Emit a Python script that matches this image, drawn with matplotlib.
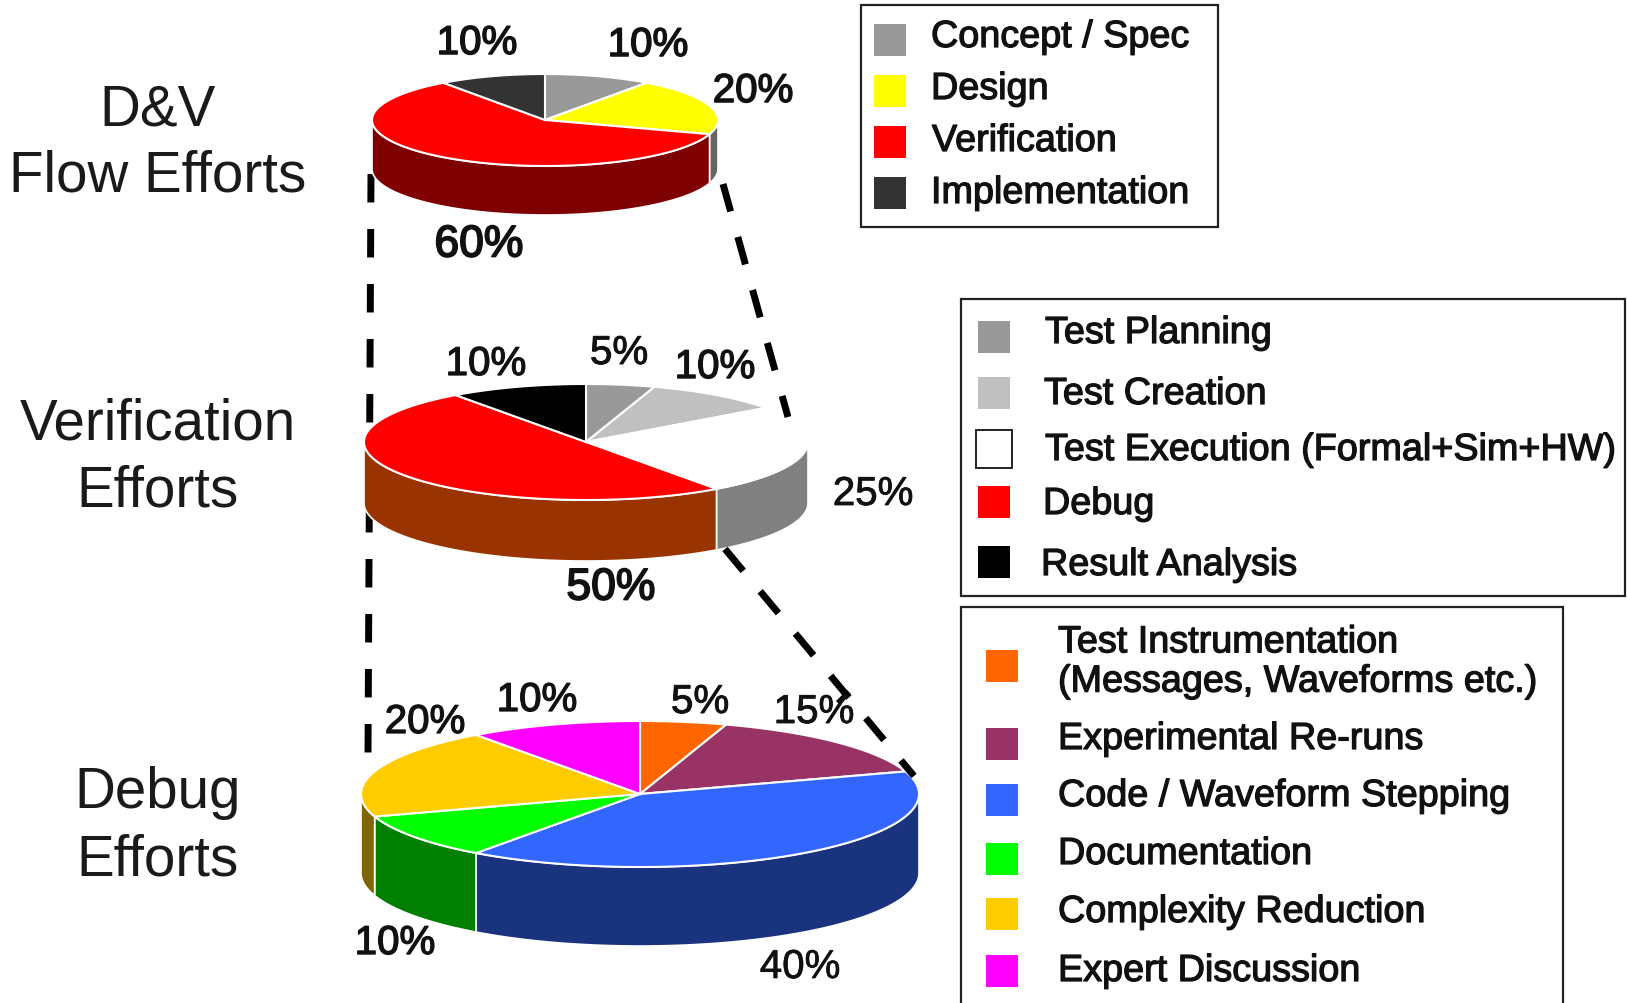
# -*- coding: utf-8 -*-
"""Three stacked pseudo-3D pies drilling down from D&V flow to debug efforts."""

import matplotlib

matplotlib.use("Agg")

import matplotlib.patheffects as pe
import matplotlib.pyplot as plt
import numpy as np
from matplotlib.patches import Polygon, Rectangle

plt.rcParams["font.family"] = ["Liberation Sans", "DejaVu Sans"]

flow_names = ["Concept / Spec", "Design", "Verification", "Implementation"]
flow_shares = [10, 20, 60, 10]
flow_tops = ["#999999", "#ffff00", "#ff0000", "#333333"]
flow_sides = ["#4d4d4d", "#666666", "#7f0000", "#1a1a1a"]

verif_names = [
    "Test Planning",
    "Test Creation",
    "Test Execution (Formal+Sim+HW)",
    "Debug",
    "Result Analysis",
]
verif_shares = [5, 10, 25, 50, 10]
verif_tops = ["#999999", "#c0c0c0", "#ffffff", "#ff0000", "#000000"]
verif_sides = ["#4d4d4d", "#606060", "#808080", "#993300", "#000000"]

debug_names = [
    "Test Instrumentation\n(Messages, Waveforms etc.)",
    "Experimental Re-runs",
    "Code / Waveform Stepping",
    "Documentation",
    "Complexity Reduction",
    "Expert Discussion",
]
debug_shares = [5, 15, 40, 10, 20, 10]
debug_tops = ["#ff6600", "#993366", "#3366ff", "#00ff00", "#ffcc00", "#ff00ff"]
debug_sides = ["#7f3300", "#4d1a33", "#1a337f", "#007f00", "#7f6600", "#7f007f"]


def rim(cx, cy, a, b, t0, t1):
    """Points on the pie ellipse, angles clockwise from 12 o'clock in degrees."""
    t = np.radians(np.linspace(t0, t1, max(int(abs(t1 - t0)) * 2, 2)))
    return np.column_stack([cx + a * np.sin(t), cy - b * np.cos(t)])


def draw_pie(ax, shares, tops, sides, cx, cy, a, b, depth):
    edges = np.cumsum([0] + list(shares)) * 3.6
    for i in range(len(shares)):
        # only the front half of the rim shows a side wall
        lo, hi = max(edges[i], 90), min(edges[i + 1], 270)
        if hi > lo:
            upper = rim(cx, cy, a, b, lo, hi)
            lower = upper[::-1] + [0, depth]
            ax.add_patch(
                Polygon(
                    np.vstack([upper, lower]),
                    fc=sides[i],
                    ec="white",
                    lw=1.2,
                    zorder=3,
                )
            )
    for i in range(len(shares)):
        outline = np.vstack([[cx, cy], rim(cx, cy, a, b, edges[i], edges[i + 1])])
        ax.add_patch(Polygon(outline, fc=tops[i], ec="white", lw=1.5, zorder=4))


def draw_legend(ax, box, names, colors, swatch_x, swatch_ys, text_xs, text_ys, size, swatch=32):
    x0, y0, x1, y1 = box
    ax.add_patch(Rectangle((x0, y0), x1 - x0, y1 - y0, fc="white", ec="#222222", lw=1.6, zorder=2))
    for name, c, sy, tx, ty in zip(names, colors, swatch_ys, text_xs, text_ys):
        if c == "#ffffff":
            ax.add_patch(
                Rectangle((swatch_x - 2, sy - 19), swatch + 4, swatch + 6, fc=c, ec="#222222", lw=1.4, zorder=3)
            )
        else:
            ax.add_patch(Rectangle((swatch_x, sy - swatch / 2), swatch, swatch, fc=c, ec="none", zorder=3))
        ax.text(
            tx,
            ty,
            name,
            fontsize=size,
            va="center",
            ha="left",
            color="#111111",
            linespacing=1.12,
            zorder=5,
            path_effects=[pe.withStroke(linewidth=0.9, foreground="#111111")],
        )


def dashed(ax, xs, ys, zorder):
    ax.plot(
        xs,
        ys,
        color="black",
        lw=5,
        linestyle=(0, (4.1, 3.82)),
        dash_capstyle="butt",
        zorder=zorder,
    )


fig = plt.figure(figsize=(16.27, 10.04), dpi=100)
ax = fig.add_axes([0, 0, 1, 1])
ax.set_xlim(0, 1627)
ax.set_ylim(1004, 0)
ax.axis("off")

# connectors between the pies
dashed(ax, [371, 368], [175, 755], 1)
dashed(ax, [723, 788], [185, 418], 6)
dashed(ax, [725, 914], [550, 777], 6)
# small kink on the lower connector
ax.plot([849, 838], [693, 704], color="black", lw=4, solid_capstyle="butt", zorder=6)

draw_pie(ax, flow_shares, flow_tops, flow_sides, 545, 121, 173, 46, 49)
draw_pie(ax, verif_shares, verif_tops, verif_sides, 586, 443, 222, 58, 61)
draw_pie(ax, debug_shares, debug_tops, debug_sides, 640, 795, 279, 73, 79)

# row captions
for txt, ty in [
    ("D&V", 110),
    ("Flow Efforts", 177),
    ("Verification", 425),
    ("Efforts", 492),
    ("Debug", 793),
    ("Efforts", 861),
]:
    ax.text(158, ty, txt, fontsize=40.7, ha="center", va="center", color="#1a1a1a")

# percentage labels: (x, y, size, stroke width)
flow_pct = [(648, 46, 29, 1.1), (753, 92, 29, 1.1), (479, 246, 32, 1.3), (477, 44, 29, 1.1)]
verif_pct = [(619, 354, 29, 0.7), (715, 368, 29, 1.0), (873, 495, 29, 0.6), (611, 589, 32, 1.3), (486, 365, 29, 0.9)]
debug_pct = [
    (700, 703, 29, 0.7),
    (814, 713, 29, 0.6),
    (800, 968, 29, 0.5),
    (395, 944, 29, 1.0),
    (425, 723, 29, 0.9),
    (537, 701, 29, 0.9),
]
for shares, places in [
    (flow_shares, flow_pct),
    (verif_shares, verif_pct),
    (debug_shares, debug_pct),
]:
    for v, (px, py, size, stroke) in zip(shares, places):
        ax.text(
            px,
            py,
            "%d%%" % v,
            fontsize=size,
            ha="center",
            va="center",
            color="#111111",
            zorder=7,
            path_effects=[pe.withStroke(linewidth=stroke, foreground="#111111")],
        )

draw_legend(
    ax,
    (861, 6, 1218, 228),
    flow_names,
    flow_tops,
    874,
    [41, 92, 143, 194],
    [931, 931, 932, 931],
    [38, 90, 142, 194],
    27.2,
)
draw_legend(
    ax,
    (961, 300, 1625, 597),
    verif_names,
    verif_tops,
    978,
    [338, 394, 450, 503, 563],
    [1045, 1044, 1045, 1043, 1041],
    [334, 395, 451, 505, 566],
    27.2,
)
draw_legend(
    ax,
    (961, 608, 1563, 1012),
    debug_names,
    debug_tops,
    986,
    [667, 745, 801, 860, 915, 972],
    [1058] * 6,
    [663, 740, 797, 855, 913, 972],
    27.2,
)

fig.savefig("out.png", dpi=100)
